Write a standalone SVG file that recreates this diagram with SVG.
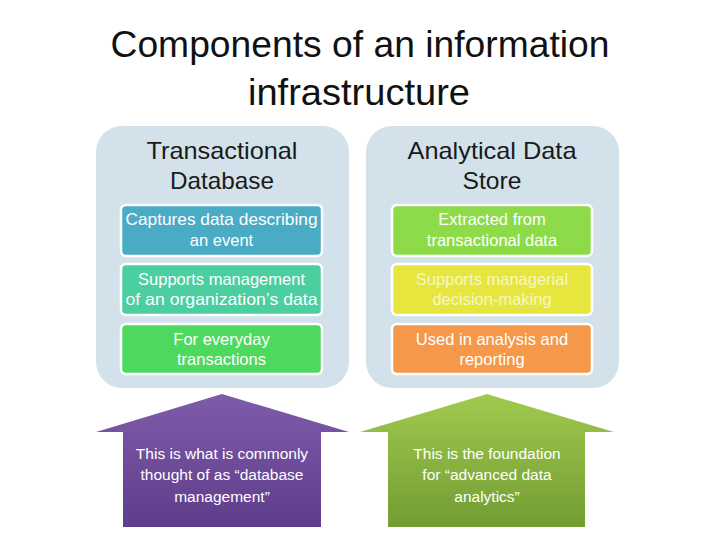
<svg xmlns="http://www.w3.org/2000/svg" width="720" height="540" viewBox="0 0 720 540">
<defs>
<linearGradient id="gp" x1="0" y1="0" x2="0" y2="1"><stop offset="0" stop-color="#7f5cab"/><stop offset="1" stop-color="#5e3d8a"/></linearGradient>
<linearGradient id="gg" x1="0" y1="0" x2="0" y2="1"><stop offset="0" stop-color="#a0ca4e"/><stop offset="1" stop-color="#739c33"/></linearGradient>
<style>
.t{font-family:"Liberation Sans",Arial,sans-serif;text-anchor:middle}
.title{font-size:36px;fill:#111}
.hd{font-size:24px;fill:#1a1a1a}
.bx{stroke:#fff;stroke-width:2.5}
.bt{font-size:16.5px;fill:#fff}
.at{font-size:15.5px;fill:#fff}
.panel{fill:#d3e2ea}
</style>
</defs>
<rect width="720" height="540" fill="#fff"/>
<g id="title">
<text class="t title" x="360" y="57" textLength="499" lengthAdjust="spacingAndGlyphs">Components of an information</text>
<text class="t title" x="359" y="105" textLength="222" lengthAdjust="spacingAndGlyphs">infrastructure</text>
</g>
<g id="panel-left">
<rect class="panel" x="96" y="126" width="253" height="262" rx="26"/>
<text class="t hd" x="222" y="159" textLength="151" lengthAdjust="spacingAndGlyphs">Transactional</text>
<text class="t hd" x="222" y="189" textLength="104" lengthAdjust="spacingAndGlyphs">Database</text>
</g>
<g id="panel-right">
<rect class="panel" x="366" y="126" width="253" height="262" rx="26"/>
<text class="t hd" x="492" y="159" textLength="169" lengthAdjust="spacingAndGlyphs">Analytical Data</text>
<text class="t hd" x="492" y="189" textLength="59" lengthAdjust="spacingAndGlyphs">Store</text>
</g>
<g id="box-l1"><rect class="bx" x="121" y="205" width="201" height="51" rx="5" fill="#4aabc5"/>
<text class="t bt" x="221.5" y="225" textLength="192" lengthAdjust="spacingAndGlyphs">Captures data describing</text><text class="t bt" x="221.5" y="246">an event</text></g>
<g id="box-l2"><rect class="bx" x="121" y="264" width="201" height="51" rx="5" fill="#4bcea0"/>
<text class="t bt" x="221.5" y="285">Supports management</text><text class="t bt" x="221.5" y="305" textLength="192" lengthAdjust="spacingAndGlyphs">of an organization’s data</text></g>
<g id="box-l3"><rect class="bx" x="121" y="324" width="201" height="50" rx="5" fill="#4dd95e"/>
<text class="t bt" x="221.5" y="345">For everyday</text><text class="t bt" x="221.5" y="365">transactions</text></g>
<g id="box-r1"><rect class="bx" x="392" y="205" width="200" height="51" rx="5" fill="#8ddb48"/>
<text class="t bt" x="492" y="225">Extracted from</text><text class="t bt" x="492" y="246">transactional data</text></g>
<g id="box-r2"><rect class="bx" x="392" y="264" width="200" height="51" rx="5" fill="#e6e63f"/>
<text class="t bt" x="492" y="285" style="fill:#f7f7c4">Supports managerial</text><text class="t bt" x="492" y="305" style="fill:#f7f7c4">decision-making</text></g>
<g id="box-r3"><rect class="bx" x="392" y="324" width="200" height="50" rx="5" fill="#f5984a"/>
<text class="t bt" x="492" y="345">Used in analysis and</text><text class="t bt" x="492" y="365">reporting</text></g>
<g id="arrow-left">
<path d="M222 394 L349 432 L321 432 L321 527 L123 527 L123 432 L96 432 Z" fill="url(#gp)"/>
<text class="t at" x="222" y="459">This is what is commonly</text>
<text class="t at" x="222" y="480">thought of as “database</text>
<text class="t at" x="222" y="502">management”</text>
</g>
<g id="arrow-right">
<path d="M487 394 L614 432 L585 432 L585 527 L388 527 L388 432 L360 432 Z" fill="url(#gg)"/>
<text class="t at" x="487" y="459">This is the foundation</text>
<text class="t at" x="487" y="480">for “advanced data</text>
<text class="t at" x="487" y="502">analytics”</text>
</g>
<g id="connectors"></g>
</svg>
